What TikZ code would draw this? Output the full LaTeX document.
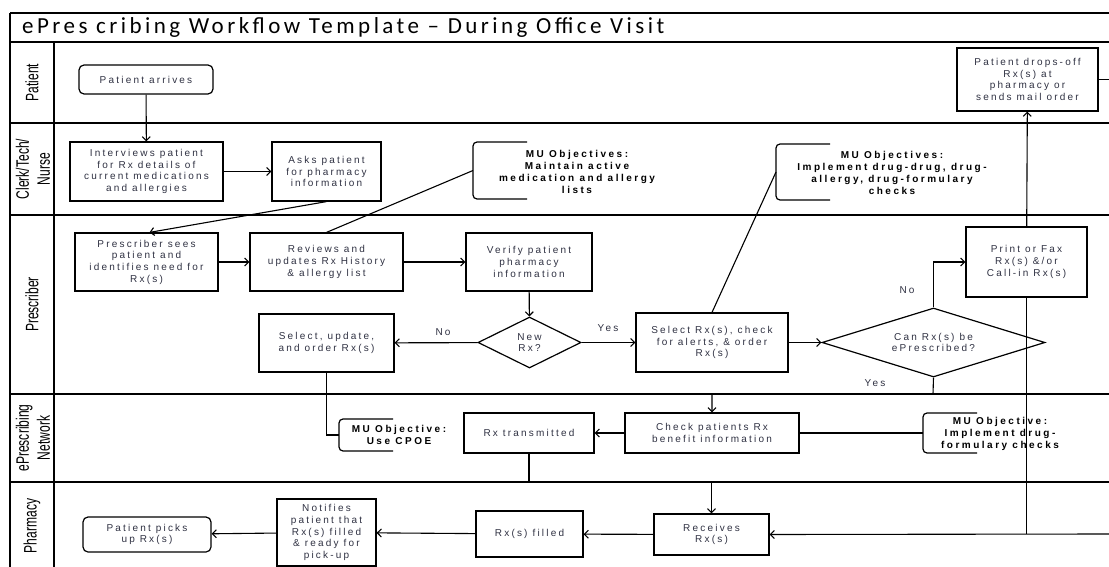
\documentclass[tikz,border=0pt]{standalone}
\usepackage{fontspec}
\setmainfont{Liberation Sans}
\newfontfamily\boxf[LetterSpace=22]{Liberation Sans}
\newfontfamily\muf[LetterSpace=25]{Liberation Sans}
\newfontfamily\lanef[FakeStretch=0.67]{Liberation Sans}
\newfontfamily\titlef[LetterSpace=15]{Carlito}
\usetikzlibrary{arrows.meta,shapes.geometric,calc}
\definecolor{txt}{HTML}{2F3142}
\newcommand\mubrak[3]{\draw[brk] ({#1+54},{#2-#3}) -- ({#1},{#2-#3}) -- ({#1},{#2+#3}) -- ({#1+54},{#2+#3});}
\begin{document}
\begin{tikzpicture}[x=1pt,y=-1pt,
  proc/.style={draw,line width=1.2pt,inner sep=1pt,align=center,text=txt,
    font=\boxf\fontsize{10}{11.7}\selectfont},
  term/.style={proc,rounded corners=5pt},
  dia/.style={diamond,draw,line width=1.2pt,inner sep=0pt,align=center,text=txt,
    font=\boxf\fontsize{10}{11.7}\selectfont},
  mutext/.style={align=center,inner sep=0pt,font=\muf\bfseries\fontsize{10}{12.2}\selectfont},
  lanelab/.style={rotate=90,align=center,inner sep=0pt,font=\lanef\fontsize{18}{21}\selectfont},
  yn/.style={inner sep=0pt,text=txt,font=\boxf\fontsize{10}{11}\selectfont},
  arr/.style={line width=1.1pt,-{Straight Barb[length=4pt,width=8pt,line width=1.1pt]}},
  conn/.style={line width=1.1pt},
  brk/.style={line width=1.2pt,rounded corners=4pt},
  laneline/.style={line width=1.6pt}
]
\useasboundingbox (0,0) rectangle (1109,567);
% swimlane frame
\draw[laneline] (10,13) -- (1109,13);
\draw[laneline] (10,42) -- (1109,42);
\draw[laneline] (10,123) -- (1109,123);
\draw[laneline] (10,215) -- (1109,215);
\draw[laneline] (10,394) -- (1109,394);
\draw[laneline] (10,482) -- (1109,482);
\draw[laneline] (10,13) -- (10,567);
\draw[laneline] (54,42) -- (54,567);
\node[anchor=west,inner sep=0pt,font=\titlef\fontsize{23}{25}\selectfont] (title) at (22,27.5) {ePres cribing Workflow Template – During Office Visit};
% lane labels
\node[lanelab] (lpat) at (32,82.5) {Patient};
\node[lanelab] (lclerk) at (33,169) {Clerk/Tech/\\Nurse};
\node[lanelab] (lpres) at (32,304.5) {Prescriber};
\node[lanelab] (lnet) at (33,438) {ePrescribing\\Network};
\node[lanelab] (lpha) at (32,526) {Pharmacy};
% nodes
\node[term,minimum width=134pt,minimum height=29pt] (arrive) at (146,79.5) {Patient arrives};
\node[proc,minimum width=153pt,minimum height=59pt] (interview) at (146.5,171.5) {Interviews patient\\for Rx details of\\current medications\\and allergies};
\node[proc,minimum width=109pt,minimum height=59pt] (asks) at (326.5,171.5) {Asks patient\\for pharmacy\\information};
\node[proc,minimum width=141pt,minimum height=63pt] (dropoff) at (1027.5,79.5) {Patient drops-off\\Rx(s) at\\pharmacy or\\sends mail order};
\node[proc,minimum width=143pt,minimum height=58pt] (psees) at (146.5,262) {Prescriber sees\\patient and\\identifies need for\\Rx(s)};
\node[proc,minimum width=153pt,minimum height=58pt] (reviews) at (326.5,262) {Reviews and\\updates Rx History\\\& allergy list};
\node[proc,minimum width=126pt,minimum height=58pt] (verify) at (529,262) {Verify patient\\pharmacy\\information};
\node[dia,aspect=2,minimum width=103pt,minimum height=51pt] (newrx) at (529.5,342.5) {New\\Rx?};
\node[proc,minimum width=135pt,minimum height=58pt] (selupd) at (326.5,343) {Select, update,\\and order Rx(s)};
\node[proc,minimum width=152pt,minimum height=59pt] (selrx) at (712,342.5) {Select Rx(s), check\\for alerts, \& order\\Rx(s)};
\node[dia,aspect=3.2,minimum width=223pt,minimum height=69pt] (canrx) at (933.5,342.5) {Can Rx(s) be\\ePrescribed?};
\node[proc,minimum width=121pt,minimum height=70pt] (printfax) at (1026.5,262) {Print or Fax\\Rx(s) \&/or\\Call-in Rx(s)};
\node[proc,minimum width=174pt,minimum height=40pt] (check) at (712,433) {Check patients Rx\\benefit information};
\node[proc,minimum width=130pt,minimum height=40pt] (rxtrans) at (529,433) {Rx transmitted};
\node[proc,minimum width=115pt,minimum height=41pt] (receives) at (711.5,534.5) {Receives\\Rx(s)};
\node[proc,minimum width=107pt,minimum height=46pt] (filled) at (529.5,534) {Rx(s) filled};
\node[proc,minimum width=99pt,minimum height=67pt] (notifies) at (326.5,532.5) {Notifies\\patient that\\Rx(s) filled\\\& ready for\\pick-up};
\node[term,minimum width=128pt,minimum height=35pt] (pickup) at (147,534.5) {Patient picks\\up Rx(s)};
% MU objectives
\mubrak{473}{170.5}{28.5}
\coordinate (mu1b) at (473,170.5);
\node[mutext] (mu1) at (577,172) {MU Objectives:\\Maintain active\\medication and allergy\\lists};
\mubrak{776}{172}{28}
\coordinate (mu2b) at (776,172);
\node[mutext] (mu2) at (892,173) {MU Objectives:\\Implement drug-drug, drug-\\allergy, drug-formulary\\checks};
\mubrak{923}{433}{20}
\coordinate (mu3b) at (923,433);
\node[mutext] (mu3) at (1000,434) {MU Objective:\\Implement drug-\\formulary checks};
\mubrak{339}{435}{16}
\coordinate (mu4b) at (339,435);
\node[mutext] (mu4) at (399,435) {MU Objective:\\Use CPOE};
% edge coordinates
\coordinate (redgeA) at (1109,79.5);
\coordinate (redgeB) at (1109,534);
\coordinate (lanePN) at (933,394);
\coordinate (laneNP) at (529,482);
% connectors
\draw[arr] (arrive) -- (interview);
\draw[arr] (interview) -- (asks);
\draw[arr] (asks.south) -- ($(psees.north)+(3,0)$);
\draw[arr] (psees) -- (reviews);
\draw[conn] (reviews.north) -- (mu1b);
\draw[arr] (reviews) -- (verify);
\draw[arr] (verify) -- (newrx);
\draw[arr] (newrx) -- (selupd);
\draw[arr] (newrx) -- (selrx);
\node[yn] (lno1) at (443,332) {No};
\node[yn] (lyes1) at (608,328) {Yes};
\draw[conn] (selrx.north) -- (mu2b);
\draw[arr] (selrx) -- (canrx);
\draw[arr] (canrx.north) |- (printfax.west);
\node[yn] (lno2) at (907,290) {No};
\draw[arr] (canrx.south) -- (lanePN) -| (check.north);
\node[yn] (lyes2) at (875,383) {Yes};
\draw[arr] (printfax) -- (dropoff);
\draw[conn] (dropoff.east) -- (redgeA);
\draw[conn] (printfax.south) -- (printfax.south |- redgeB);
\draw[arr] (redgeB) -- (receives.east);
\draw[arr] (check) -- (rxtrans);
\draw[conn] (check.east) -- (mu3b);
\draw[conn] (selupd.south) |- (mu4b);
\draw[arr] (rxtrans.south) -- (laneNP) -| (receives.north);
\draw[arr] (receives) -- (filled);
\draw[arr] (filled) -- (notifies);
\draw[arr] (notifies) -- (pickup);
\end{tikzpicture}
\end{document}
